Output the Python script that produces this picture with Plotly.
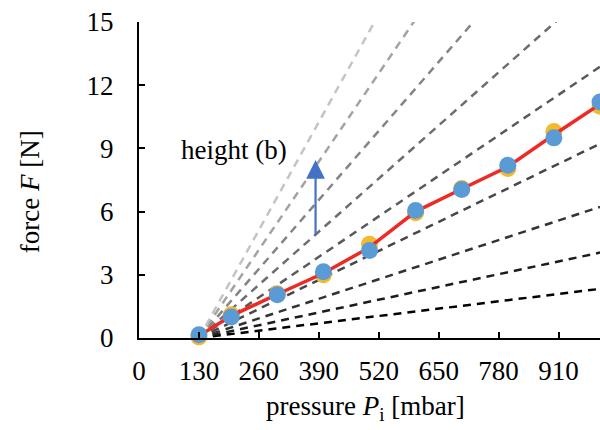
import numpy as np
import plotly.graph_objects as go

# ---- data ----
pressure = [130, 200, 300, 400, 500, 600, 700, 800, 900, 1000]          # mbar
force_blue = [0.15, 1.0, 2.05, 3.15, 4.15, 6.05, 7.05, 8.2, 9.5, 11.2]  # N
force_yellow = [0.05, 1.1, 2.1, 3.0, 4.45, 5.95, 7.1, 8.05, 9.8, 11.0]  # N
force_mean = [(a + b) / 2 for a, b in zip(force_blue, force_yellow)]

fan_origin = 130                      # mbar
fan_slopes = [0.00268, 0.00466, 0.00715, 0.0106, 0.0148, 0.0194, 0.0252, 0.0322, 0.0394]  # N/mbar
fan_colors = ["#000000", "#1c1c1c", "#333333", "#474747", "#5a5a5a",
              "#6e6e6e", "#858585", "#a3a3a3", "#c4c4c4"]

x_ticks = [0, 130, 260, 390, 520, 650, 780, 910]
y_ticks = [0, 3, 6, 9, 12, 15]

FONT = "Liberation Serif"

fig = go.Figure()

for s, c in zip(fan_slopes, fan_colors):
    xe = 1000
    fig.add_trace(go.Scatter(
        x=[fan_origin, xe], y=[0, s * (xe - fan_origin)],
        mode="lines", line=dict(color=c, width=2.5, dash="8px,6px"),
        hoverinfo="skip", showlegend=False))

fig.add_trace(go.Scatter(x=pressure, y=force_yellow, mode="markers",
                         marker=dict(size=17, color="#F5B92E"),
                         cliponaxis=False, showlegend=False))
fig.add_trace(go.Scatter(x=pressure, y=force_mean, mode="lines",
                         line=dict(color="#EE2A24", width=3.5),
                         cliponaxis=False, showlegend=False))
fig.add_trace(go.Scatter(x=pressure, y=force_blue, mode="markers",
                         marker=dict(size=17, color="#5B9BD5"),
                         cliponaxis=False, showlegend=False))

fig.add_annotation(x=383, y=8.45, ax=383, ay=4.8, xref="x", yref="y",
                   axref="x", ayref="y", text="", showarrow=True,
                   arrowhead=2, arrowsize=1.7, arrowwidth=2.2,
                   arrowcolor="#4472C4")
fig.add_annotation(x=205, y=8.92, xref="x", yref="y", text="height (b)",
                   xanchor="center", yanchor="middle", showarrow=False,
                   font=dict(family=FONT, size=27, color="black"))

fig.add_annotation(x=-0.236, y=0.462, xref="paper", yref="paper",
                   xanchor="center", yanchor="middle",
                   text="force <i>F</i> [N]", textangle=-90, showarrow=False,
                   font=dict(family=FONT, size=27, color="black"))
fig.add_annotation(x=0.492, y=-0.222, xref="paper", yref="paper",
                   xanchor="center", yanchor="middle",
                   text="pressure <i>P</i><sub>i</sub> [mbar]", showarrow=False,
                   font=dict(family=FONT, size=27, color="black"))

axis_common = dict(showgrid=False, zeroline=False, showline=True,
                   linecolor="black", linewidth=2, ticks="inside",
                   ticklen=6, tickwidth=2, tickcolor="black", automargin=False,
                   ticklabeloverflow="allow",
                   tickfont=dict(family=FONT, size=27, color="black"))
fig.update_xaxes(range=[0, 1000], tickvals=x_ticks, ticklabelstandoff=8, **axis_common)
fig.update_yaxes(range=[0, 15], tickvals=y_ticks, ticklabelstandoff=18, **axis_common)

fig.update_layout(width=600, height=430, margin=dict(l=139, r=0, t=22, b=92),
                  plot_bgcolor="white", paper_bgcolor="white",
                  font=dict(family=FONT))

fig.write_html("out.html", config={"displayModeBar": False},
               post_script="document.body.style.margin='0px';"
                           "document.body.style.overflow='hidden';")
